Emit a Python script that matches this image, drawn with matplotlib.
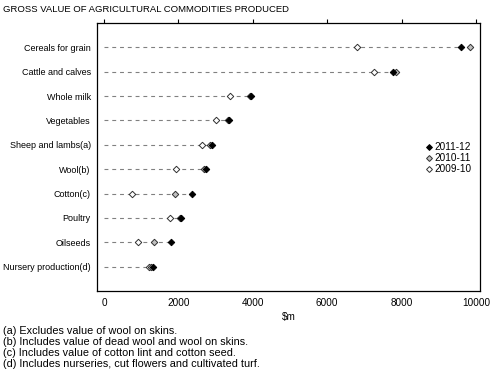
import matplotlib
matplotlib.use("Agg")
import matplotlib.pyplot as plt
from matplotlib.lines import Line2D

plt.rcParams['font.family'] = ['Liberation Sans', 'DejaVu Sans']

categories = ["Cereals for grain", "Cattle and calves", "Whole milk", "Vegetables",
              "Sheep and lambs(a)", "Wool(b)", "Cotton(c)", "Poultry", "Oilseeds",
              "Nursery production(d)"]
v_2011_12 = [9600, 7780, 3960, 3360, 2900, 2740, 2360, 2070, 1810, 1310]
v_2010_11 = [9840, 7840, 3920, 3340, 2860, 2700, 1900, 2040, 1340, 1250]
v_2009_10 = [6800, 7260, 3380, 3020, 2630, 1930, 750, 1775, 915, 1220]
series_labels = ["2011-12", "2010-11", "2009-10"]
xticks = [0, 2000, 4000, 6000, 8000, 10000]
footnotes = ["(a) Excludes value of wool on skins.",
             "(b) Includes value of dead wool and wool on skins.",
             "(c) Includes value of cotton lint and cotton seed.",
             "(d) Includes nurseries, cut flowers and cultivated turf."]

W, H = 491, 378
fig = plt.figure(figsize=(W / 100, H / 100), dpi=100)
ax = fig.add_axes([97 / W, 1 - 291 / H, (480 - 97) / W, (291 - 23) / H])

ypos = list(range(len(categories)))
for y, v in zip(ypos, v_2011_12):
    ax.plot([0, v], [y, y], color='#808080', lw=0.8, dashes=(3.5, 3.5), zorder=1)

ms = 3.3
mew = 0.7
ax.plot(v_2009_10, ypos, ls='none', marker='D', ms=ms, mfc='white', mec='#303030', mew=mew, zorder=2)
ax.plot(v_2010_11, ypos, ls='none', marker='D', ms=ms, mfc='#c0c0c0', mec='#303030', mew=mew, zorder=3)
ax.plot(v_2011_12, ypos, ls='none', marker='D', ms=ms, mfc='black', mec='black', mew=mew, zorder=4)

ax.set_xlim(-190, 10110)
ax.set_ylim(10, -1)
ax.set_yticks(ypos)
ax.set_yticklabels(categories, fontsize=6.5)
ax.set_xticks(xticks)
ax.set_xticklabels([str(t) for t in xticks], fontsize=7.2)
ax.tick_params(axis='y', left=False, pad=1)
ax.tick_params(axis='x', bottom=False, top=True, labelbottom=True, labeltop=False,
               direction='out', length=3, width=0.8, pad=2)
for s in ax.spines.values():
    s.set_linewidth(0.9)

ax.set_xlabel("$m", fontsize=7.2, labelpad=3)

handles = [
    Line2D([], [], ls='none', marker='D', ms=3.0, mfc='black', mec='black', mew=mew),
    Line2D([], [], ls='none', marker='D', ms=3.0, mfc='#c0c0c0', mec='#303030', mew=mew),
    Line2D([], [], ls='none', marker='D', ms=3.0, mfc='white', mec='#303030', mew=mew),
]
ax.legend(handles, series_labels, loc='upper left', bbox_to_anchor=(426 / W, 1 - 142 / H),
          bbox_transform=fig.transFigure, frameon=False, fontsize=7.2, handlelength=0.5,
          handletextpad=0.35, labelspacing=0.12, borderpad=0, borderaxespad=0)

fig.text(3 / W, 1 - 9 / H, "GROSS VALUE OF AGRICULTURAL COMMODITIES PRODUCED",
         fontsize=6.8, ha='left', va='center')
for i, t in enumerate(footnotes):
    fig.text(3 / W, 1 - (331 + 11 * i) / H, t, fontsize=7.8, ha='left', va='center')

fig.savefig("out.png", dpi=100)
